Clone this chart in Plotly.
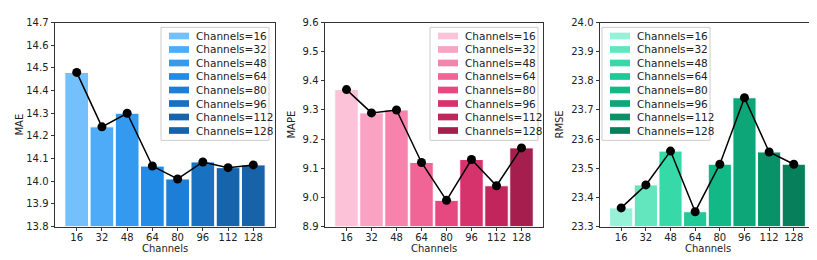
import plotly.graph_objects as go

channels = ["16", "32", "48", "64", "80", "96", "112", "128"]
mae = [14.48, 14.24, 14.30, 14.067, 14.01, 14.085, 14.06, 14.072]
mape = [9.37, 9.29, 9.30, 9.12, 8.99, 9.13, 9.04, 9.17]
rmse = [23.364, 23.443, 23.559, 23.351, 23.514, 23.742, 23.556, 23.514]

blues = ["#74c0fc", "#4dabf7", "#339af0", "#228be6", "#1c7ed6", "#1971c2", "#1864ab", "#1862a8"]
pinks = ["#fcc2d7", "#faa2c1", "#f783ac", "#f06595", "#e64980", "#d6336c", "#c2255c", "#a61e4d"]
teals = ["#96f2d7", "#63e6be", "#38d9a9", "#20c997", "#12b886", "#0ca678", "#099268", "#087f5b"]

metric_names = ["MAE", "MAPE", "RMSE"]
metric_vals = [mae, mape, rmse]
palettes = [blues, pinks, teals]
y_ranges = [[13.8, 14.7], [8.9, 9.6], [23.3, 24.0]]

W, H = 817, 260
x_px = [(47, 267), (317, 535), (592, 807)]
ylabel_px = [12, 284, 552]
y_top, y_bot = 10, 223
FONT = "DejaVu Sans"
FS = 10
TXT = "#222"

# legend boxes (left px) and geometry
legend_left = [153, 422, 594]
LEG_TOP, LEG_BOT, LEG_W = 15, 133, 108
ROW0, ROW_STEP = 24, 14.1

fig = go.Figure()
for i in range(3):
    xa = "x" if i == 0 else f"x{i+1}"
    ya = "y" if i == 0 else f"y{i+1}"
    floor = y_ranges[i][0]
    for j, ch in enumerate(channels):
        fig.add_trace(go.Bar(
            x=[ch], y=[metric_vals[i][j] - floor], base=floor,
            name=f"Channels={ch}",
            marker=dict(color=palettes[i][j], line=dict(color="white", width=1)),
            width=0.94, xaxis=xa, yaxis=ya, showlegend=False,
            hovertemplate=f"Channels={ch}<br>{metric_names[i]}=%{{customdata}}<extra></extra>",
            customdata=[metric_vals[i][j]],
        ))
    fig.add_trace(go.Scatter(
        x=channels, y=metric_vals[i], mode="lines+markers",
        line=dict(color="black", width=1.5),
        marker=dict(color="black", size=9),
        xaxis=xa, yaxis=ya, showlegend=False,
    ))

layout = dict(
    width=W, height=H, margin=dict(l=0, r=0, t=0, b=0),
    paper_bgcolor="white", plot_bgcolor="white",
    barmode="overlay", showlegend=False,
    font=dict(family=FONT, size=FS, color=TXT),
)
annotations = []
shapes = []
for i in range(3):
    xs = "xaxis" if i == 0 else f"xaxis{i+1}"
    ys = "yaxis" if i == 0 else f"yaxis{i+1}"
    ya = "y" if i == 0 else f"y{i+1}"
    xa = "x" if i == 0 else f"x{i+1}"
    x0, x1 = x_px[i]
    layout[xs] = dict(
        domain=[x0 / W, x1 / W], anchor=ya, type="category",
        categoryorder="array", categoryarray=channels,
        range=[-0.86, 7.86], showline=True, mirror=True, linecolor="#333", linewidth=1,
        ticks="outside", ticklen=3.5, tickcolor="#333", showgrid=False,
        tickfont=dict(family=FONT, size=FS, color=TXT), ticklabelstandoff=-2,
    )
    layout[ys] = dict(
        domain=[1 - y_bot / H, 1 - y_top / H], anchor=xa,
        range=y_ranges[i], dtick=0.1, tickformat=".1f",
        showline=True, mirror=True, linecolor="#333", linewidth=1,
        ticks="outside", ticklen=3.5, tickcolor="#333", showgrid=False, zeroline=False,
        tickfont=dict(family=FONT, size=FS, color=TXT),
    )
    annotations.append(dict(
        text="Channels", x=(x0 + x1) / 2 / W, y=1 - 246 / H, xref="paper", yref="paper",
        showarrow=False, font=dict(family=FONT, size=FS, color=TXT),
        xanchor="center", yanchor="middle",
    ))
    annotations.append(dict(
        text=metric_names[i], x=ylabel_px[i] / W,
        y=1 - ((y_top + y_bot) / 2) / H,
        xref="paper", yref="paper", textangle=-90, showarrow=False,
        font=dict(family=FONT, size=FS, color=TXT), xanchor="center", yanchor="middle",
    ))
    # legend (drawn manually to match compact matplotlib layout)
    L = legend_left[i]
    shapes.append(dict(
        type="rect", xref="paper", yref="paper", layer="above",
        x0=L / W, x1=(L + LEG_W) / W, y0=1 - LEG_BOT / H, y1=1 - LEG_TOP / H,
        fillcolor="rgba(255,255,255,0.8)", line=dict(color="#cccccc", width=1),
    ))
    for j, ch in enumerate(channels):
        cy = ROW0 + j * ROW_STEP
        shapes.append(dict(
            type="rect", xref="paper", yref="paper", layer="above",
            x0=(L + 8) / W, x1=(L + 28) / W, y0=1 - (cy + 3.5) / H, y1=1 - (cy - 3.5) / H,
            fillcolor=palettes[i][j], line=dict(width=0),
        ))
        annotations.append(dict(
            text=f"Channels={ch}", x=(L + 33) / W, y=1 - cy / H,
            xref="paper", yref="paper", showarrow=False, xanchor="left", yanchor="middle",
            font=dict(family=FONT, size=10.5, color=TXT),
        ))
layout["annotations"] = annotations
layout["shapes"] = shapes
fig.update_layout(**layout)

fig.write_html("out.html")
